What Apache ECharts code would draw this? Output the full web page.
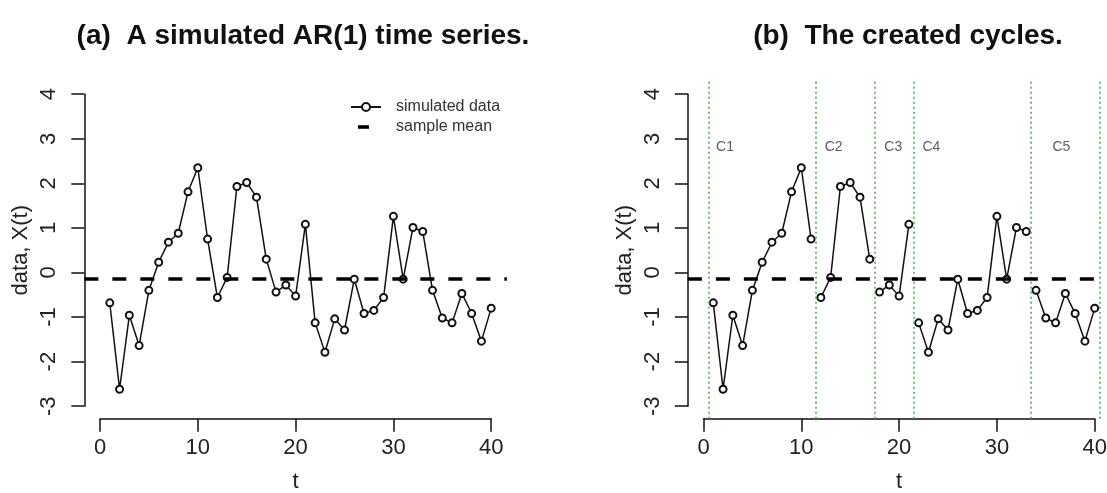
<!DOCTYPE html>
<html><head><meta charset="utf-8">
<script src="https://cdn.jsdelivr.net/npm/echarts@6/dist/echarts.min.js"></script>
<style>html,body{margin:0;padding:0;background:#fff}#c{width:1107px;height:493px}</style>
</head><body><div id="c"></div>
<script>
// ---------- data ----------
const tValues = [1,2,3,4,5,6,7,8,9,10,11,12,13,14,15,16,17,18,19,20,21,22,23,24,25,26,27,28,29,30,31,32,33,34,35,36,37,38,39,40];
const simulated = [-0.68,-2.62,-0.96,-1.64,-0.40,0.23,0.68,0.88,1.81,2.35,
                   0.75,-0.56,-0.11,1.93,2.02,1.69,0.30,-0.44,-0.28,-0.53,
                   1.08,-1.13,-1.79,-1.04,-1.29,-0.15,-0.92,-0.85,-0.56,1.26,
                   -0.15,1.01,0.92,-0.40,-1.02,-1.13,-0.47,-0.92,-1.54,-0.80];
const sampleMean = -0.15;
const cycleBreaks = [0.5, 11.5, 17.5, 21.5, 33.5, 40.5];
const cycleNames = ['C1','C2','C3','C4','C5'];
const cycleLabelT = [2.2, 13.3, 19.4, 23.3, 36.6];
const cycleLabelY = 2.82;
const xTickRange = [0, 40, 10];   // min, max, interval
const yTickRange = [-3, 4, 1];
const titles = ['(a)  A simulated AR(1) time series.', '(b)  The created cycles.'];
const xName = 't';
const yName = 'data, X(t)';
const legendNames = ['simulated data', 'sample mean'];

// ---------- layout ----------
const FONT = "'Liberation Sans', Arial, sans-serif";
const pxT = 9.78, pxY = 44.57, zeroY = 272.5;
const panelX0 = [100, 703.5];
const titleCenter = [298, 903];
const padX = 1.6, padY = 0.28;

const grids = [], xAxes = [], yAxes = [], series = [];
panelX0.forEach((x0, p) => {
  const xmin = xTickRange[0] - padX, xmax = xTickRange[1] + padX;
  const ymin = yTickRange[0] - padY, ymax = yTickRange[1] + padY;
  // data grid (R plot region)
  grids.push({left: x0 + xmin * pxT, width: (xmax - xmin) * pxT,
              top: zeroY - ymax * pxY, height: (ymax - ymin) * pxY,
              containLabel: false, outerBoundsMode: 'none'});
  // axis grid (tick range)
  grids.push({left: x0 + xTickRange[0] * pxT, width: (xTickRange[1] - xTickRange[0]) * pxT,
              top: zeroY - yTickRange[1] * pxY, height: (yTickRange[1] - yTickRange[0]) * pxY,
              containLabel: false, outerBoundsMode: 'none'});
  xAxes.push({type: 'value', gridIndex: 2*p, min: xmin, max: xmax, show: false});
  yAxes.push({type: 'value', gridIndex: 2*p, min: ymin, max: ymax, show: false});
  xAxes.push({type: 'value', gridIndex: 2*p+1, min: xTickRange[0], max: xTickRange[1], interval: xTickRange[2],
    position: 'bottom', offset: padY * pxY,
    axisLine: {show: true, onZero: false, lineStyle: {color: '#111', width: 1.5}},
    axisTick: {show: true, length: 13, lineStyle: {color: '#111', width: 1.5}},
    axisLabel: {fontSize: 22, color: '#222', margin: 18, fontFamily: FONT, showMinLabel: true, showMaxLabel: true},
    splitLine: {show: false},
    name: xName, nameLocation: 'middle', nameGap: 52,
    nameTextStyle: {fontSize: 22, color: '#222', fontFamily: FONT}});
  yAxes.push({type: 'value', gridIndex: 2*p+1, min: yTickRange[0], max: yTickRange[1], interval: yTickRange[2],
    position: 'left', offset: padX * pxT,
    axisLine: {show: true, onZero: false, lineStyle: {color: '#111', width: 1.5}},
    axisTick: {show: true, length: 13, lineStyle: {color: '#111', width: 1.5}},
    axisLabel: {fontSize: 22, color: '#222', margin: 24, rotate: 90, fontFamily: FONT, showMinLabel: true, showMaxLabel: true},
    splitLine: {show: false},
    name: yName, nameLocation: 'middle', nameGap: 52,
    nameTextStyle: {fontSize: 22, color: '#222', fontFamily: FONT}});
});

const pointStyle = {
  type: 'line', symbol: 'emptyCircle', symbolSize: 7, clip: false,
  lineStyle: {color: '#111', width: 1.5},
  itemStyle: {color: '#111', borderWidth: 1.2},
  emphasis: {disabled: true}, animation: false, z: 3
};
const meanLine = {
  symbol: 'none', silent: true, animation: false,
  label: {show: false},
  lineStyle: {color: '#000', width: 3.5, type: [14, 14]},
  data: [{yAxis: sampleMean}]
};

// left panel
series.push(Object.assign({}, pointStyle, {
  name: legendNames[0], xAxisIndex: 0, yAxisIndex: 0,
  data: tValues.map((t, i) => [t, simulated[i]]),
  markLine: meanLine
}));
series.push({name: legendNames[1], type: 'line', xAxisIndex: 0, yAxisIndex: 0, data: [],
  itemStyle: {color: '#000'}, lineStyle: {color: '#000', width: 3.5, type: 'dashed'}, symbol: 'none'});

// right panel: one series per cycle
for (let k = 0; k < cycleNames.length; k++) {
  const d = [];
  tValues.forEach((t, i) => { if (t > cycleBreaks[k] && t < cycleBreaks[k+1]) d.push([t, simulated[i]]); });
  const s = Object.assign({}, pointStyle, {name: 'cycle ' + cycleNames[k], xAxisIndex: 2, yAxisIndex: 2, data: d});
  if (k === 0) {
    s.markLine = {
      symbol: 'none', silent: true, animation: false, label: {show: false},
      lineStyle: {color: '#3fa83f', width: 1.5, type: [2, 3]},
      data: cycleBreaks.map(b => ({xAxis: b}))
    };
  }
  if (k === 1) s.markLine = meanLine;
  series.push(s);
}
series.push({
  type: 'scatter', xAxisIndex: 2, yAxisIndex: 2, symbolSize: 0, silent: true, animation: false,
  data: cycleNames.map((n, i) => ({name: n, value: [cycleLabelT[i], cycleLabelY]})),
  label: {show: true, position: 'inside', formatter: '{b}', fontSize: 14, color: '#333', fontFamily: FONT}
});

const option = {
  backgroundColor: '#fff',
  animation: false,
  title: titles.map((tx, i) => ({
    text: tx, left: titleCenter[i], top: 17, textAlign: 'center',
    textStyle: {fontSize: 28, fontWeight: 'bold', color: '#111', fontFamily: FONT}
  })),
  legend: {
    orient: 'vertical', left: 345, top: 94, itemWidth: 30, itemHeight: 10, itemGap: 4,
    selectedMode: false,
    textStyle: {fontSize: 16, color: '#333', fontFamily: FONT, padding: [0, 0, 0, 10]},
    data: [
      {name: legendNames[0]},
      {name: legendNames[1], icon: 'path://M0,0M30,10M7,3.2h11v3.6h-11z'}
    ]
  },
  grid: grids, xAxis: xAxes, yAxis: yAxes, series: series
};
const chart = echarts.init(document.getElementById('c'), null, {renderer: 'canvas'});
chart.setOption(option);
</script></body></html>
